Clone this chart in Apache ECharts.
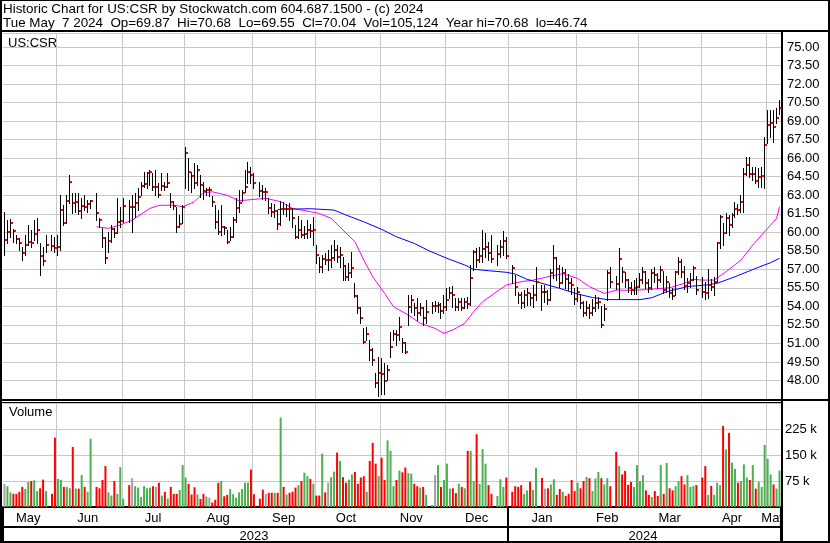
<!DOCTYPE html>
<html><head><meta charset="utf-8">
<script src="https://cdn.jsdelivr.net/npm/echarts/dist/echarts.min.js"></script>
<style>html,body{margin:0;padding:0;background:#fff}#c{width:830px;height:543px}</style>
</head><body><div id="c"></div>
<script>
// ---------- DATA ----------
const START_DATE = '2023-05-08';
const END_DATE = '2024-05-07';
const MONTH_NAMES = ['Jan','Feb','Mar','Apr','May','Jun','Jul','Aug','Sep','Oct','Nov','Dec'];
const HEADER_1 = 'Historic Chart for US:CSR by Stockwatch.com 604.687.1500 - (c) 2024';
const HEADER_2 = 'Tue May  7 2024  Op=69.87  Hi=70.68  Lo=69.55  Cl=70.04  Vol=105,124  Year hi=70.68  lo=46.74';
const SYMBOL_LABEL = 'US:CSR';
const VOLUME_LABEL = 'Volume';

// one entry per weekday (null = market holiday)
const closes = [
59.37,60.04,60.72,60.10,59.48,59.15,58.34,58.97,59.21,59.15,
59.86,60.20,58.08,57.70,59.00,null,58.89,58.70,58.78,61.80,
60.77,62.55,64.09,62.34,62.48,61.74,62.12,62.07,62.26,62.55,
null,61.58,60.99,59.56,57.94,59.32,60.26,59.96,60.85,60.91,
62.15,null,62.07,62.07,62.34,62.88,63.77,63.88,64.80,64.90,
63.69,63.69,63.04,63.77,63.66,64.01,62.45,62.15,60.45,60.67,
62.01,66.44,64.88,64.55,64.01,65.04,63.83,63.36,63.42,63.42,
62.48,60.85,60.02,60.40,60.38,59.21,59.64,60.99,61.99,62.39,
63.15,63.69,64.88,64.61,64.01,null,63.36,63.23,63.23,61.96,
61.67,61.72,60.67,61.88,61.85,61.90,61.85,61.18,59.64,60.18,
59.78,59.83,60.18,60.13,60.18,58.16,57.21,57.83,57.75,57.75,
57.89,58.56,58.02,58.16,57.27,56.40,56.73,57.08,54.84,53.89,
53.03,51.09,51.76,50.47,49.66,47.77,48.58,48.50,47.96,48.85,
50.73,51.76,51.68,52.35,51.00,50.33,53.97,54.51,53.84,53.44,
53.84,53.03,53.57,null,54.03,54.03,54.11,53.65,53.97,54.51,
55.11,54.92,53.97,54.38,53.89,54.38,54.17,56.32,58.43,57.75,
58.08,58.64,58.83,58.34,57.80,null,58.24,58.83,59.29,58.08,
null,57.08,55.60,54.92,54.24,54.92,55.06,54.65,54.92,56.00,
null,55.19,55.19,54.51,56.73,57.89,57.02,55.92,56.73,56.19,
55.92,55.73,54.60,55.19,54.24,53.49,53.84,53.49,53.84,54.30,
54.38,52.49,53.79,56.67,56.00,null,55.78,57.83,56.81,56.13,
55.51,55.32,55.46,55.60,56.13,56.81,55.92,55.46,56.67,56.54,
56.13,56.94,55.32,56.00,55.06,54.86,56.76,57.57,56.81,55.65,
55.87,56.13,57.08,55.32,null,55.20,55.10,55.73,55.60,56.00,
59.10,61.21,59.96,61.13,60.59,61.40,61.86,61.80,62.48,64.72,
65.45,64.69,64.72,64.18,64.50,64.55,67.06,68.68,68.87,68.55,
69.23,70.04];

const highs = [
61.67,60.99,61.10,60.24,59.78,59.50,58.83,59.78,60.59,60.18,
60.99,61.13,59.10,58.83,59.78,null,59.78,59.64,59.78,63.00,
62.20,63.00,64.64,63.15,63.15,63.15,62.75,63.00,62.60,62.60,
null,63.15,61.13,60.32,59.64,60.04,60.59,60.32,62.75,62.07,
62.75,null,62.61,63.00,63.15,63.55,64.09,64.90,64.90,65.04,
64.77,65.04,63.96,64.77,64.09,64.77,63.15,62.50,62.07,61.40,
62.20,66.93,65.99,64.90,65.58,65.45,64.64,64.10,63.60,63.70,
62.90,62.20,61.80,62.20,60.50,60.18,60.40,61.26,62.75,63.42,
63.42,65.04,65.71,65.30,64.77,null,64.10,63.80,63.60,62.80,
62.40,62.30,61.80,62.55,62.45,62.30,62.40,62.00,60.60,61.30,
61.00,60.50,61.00,60.70,61.20,58.97,58.02,58.16,58.30,58.56,
58.97,59.37,58.97,58.83,58.02,57.35,57.48,58.43,55.87,54.92,
53.97,52.22,52.35,51.28,50.60,48.58,49.93,49.79,49.39,49.25,
51.95,52.09,52.09,53.16,51.41,51.14,54.92,54.92,54.24,54.65,
54.30,53.97,54.51,null,54.38,54.40,54.38,54.24,54.92,55.46,
55.60,55.65,54.65,54.65,54.65,54.65,54.78,57.35,58.56,58.70,
58.83,60.20,59.91,59.24,59.78,null,58.97,59.37,60.10,59.60,
null,57.35,56.54,55.19,55.19,55.33,55.46,55.06,55.73,57.21,
null,55.73,55.73,55.33,57.00,58.97,58.02,57.35,57.20,57.00,
56.60,56.30,55.50,55.60,55.00,54.40,54.40,54.20,54.60,54.90,
54.80,54.00,54.20,56.94,57.20,null,56.50,58.72,57.20,56.80,
56.20,56.00,56.10,56.30,56.70,57.20,56.90,56.20,57.00,57.20,
56.70,57.30,56.90,56.50,55.90,55.50,56.90,58.00,57.80,57.30,
56.30,56.70,57.30,56.50,null,56.40,56.00,57.00,56.20,56.40,
59.20,61.40,60.72,61.53,61.40,61.53,62.48,62.30,63.00,65.18,
66.12,66.12,65.30,65.30,65.18,65.30,67.74,69.90,69.90,69.90,
70.04,70.68];

const lows = [
58.16,59.10,59.64,59.24,59.10,58.56,57.75,58.16,58.97,58.83,
59.37,59.10,56.54,57.35,58.43,null,58.56,58.43,58.16,58.60,
60.60,60.72,62.34,61.53,61.67,61.50,61.13,61.80,61.67,62.00,
null,60.99,60.45,58.83,57.48,58.43,59.24,59.64,59.91,60.45,
60.85,null,60.85,60.04,61.26,61.80,63.00,63.69,63.55,63.83,
63.42,63.00,62.88,63.42,63.42,63.69,62.07,61.90,60.04,60.45,
60.72,63.55,63.42,63.28,63.55,63.83,62.88,62.70,63.00,62.90,
62.10,60.32,59.90,59.78,59.90,59.10,59.40,59.64,60.85,61.67,
62.50,63.28,63.96,63.96,63.55,null,62.90,62.70,62.60,61.60,
61.30,61.20,60.30,60.59,61.50,61.30,61.00,60.40,59.50,59.50,
59.60,59.50,59.50,59.60,59.00,57.48,56.81,56.81,57.40,56.94,
57.21,57.75,57.62,57.21,56.13,56.13,56.13,56.40,54.78,53.44,
52.63,51.00,51.28,49.66,49.25,47.50,46.74,46.90,46.90,48.04,
49.93,51.28,50.87,51.28,50.33,50.20,52.49,53.57,53.30,52.89,
53.30,52.49,52.63,null,53.44,53.60,53.57,53.03,53.44,53.70,
54.65,53.97,53.70,53.70,53.70,53.84,53.84,54.10,56.94,57.21,
57.62,57.62,58.02,57.75,57.62,null,57.35,58.02,58.20,57.89,
null,55.87,54.92,54.24,53.84,53.97,54.10,54.10,53.97,54.51,
null,53.70,54.38,54.20,54.50,56.30,56.13,55.60,55.90,55.50,
55.30,55.00,54.20,54.40,53.90,53.20,53.30,53.10,53.30,53.60,
53.90,52.30,52.90,54.50,55.60,null,55.40,54.60,56.00,55.60,
55.20,55.00,55.00,55.00,55.60,55.90,55.50,55.20,55.40,56.00,
55.50,56.00,55.10,55.20,54.80,54.60,54.90,56.60,56.40,55.40,
55.20,55.60,56.10,55.00,null,54.78,54.60,54.70,55.30,54.90,
56.00,58.70,58.97,59.91,59.80,60.40,61.26,61.50,61.67,61.67,
64.64,64.50,64.23,63.96,63.69,63.69,63.55,67.20,67.74,67.33,
68.82,69.55];

// volume in thousands of shares
const volumesK = [
66,60,42,38,38,44,58,52,72,75,
77,46,54,79,46,null,38,200,81,78,
58,58,54,173,53,53,92,58,44,197,
null,58,54,78,118,42,33,75,38,115,
24,null,63,83,60,56,29,60,54,56,
60,58,70,33,44,24,58,38,38,49,
121,85,67,36,57,36,23,38,30,27,
13,21,70,75,31,35,52,37,27,42,
52,70,70,108,37,null,24,50,38,41,
41,41,41,258,58,36,41,44,56,63,
75,99,89,81,67,33,33,154,42,70,
86,102,157,133,86,70,79,94,101,67,
85,89,44,133,185,125,89,142,78,192,
162,60,78,105,100,114,98,96,67,60,
56,58,35,null,6,92,121,58,78,125,
53,54,40,67,58,54,162,162,75,210,
67,167,125,63,38,null,32,80,58,85,
null,44,60,58,63,38,48,73,49,113,
null,84,53,54,65,80,35,52,44,32,
38,78,46,70,54,75,87,83,46,82,
101,83,65,83,60,null,159,118,94,104,
64,72,58,121,75,92,48,35,29,46,
32,121,38,127,54,48,60,75,89,65,
92,58,61,63,null,85,118,35,61,35,
70,63,234,166,214,128,110,70,75,123,
85,78,121,53,72,58,179,139,94,65,
53,105.124];

// moving averages: [weekday index, value]
const maShort = [
[31,60.45],[35,60.32],[39,60.59],[43,60.99],[49,61.94],[52,62.18],[57,62.20],[60,62.07],
[64,62.48],[67,63.20],[70,63.28],[75,63.00],[79,62.55],[84,62.67],[88,62.75],[93,62.48],
[97,61.94],[103,61.67],[106,61.53],[110,61.13],[114,60.18],[118,59.24],[121,57.75],[124,56.40],
[128,55.06],[131,53.97],[136,53.30],[140,52.63],[145,52.22],[148,51.82],[151,52.09],[155,52.63],
[158,53.57],[161,54.38],[165,55.06],[169,55.73],[174,56.00],[178,56.13],[183,56.40],[188,56.65],
[193,56.27],[197,55.60],[202,55.05],[206,55.32],[211,55.30],[216,55.35],[224,55.51],[229,55.87],
[232,56.19],[235,56.13],[239,56.13],[243,56.81],[248,57.75],[252,58.97],[257,60.32],[260,61.13],[261,62.07]];
const maLong = [
[92,61.85],[103,61.91],[111,61.80],[115,61.40],[121,60.85],[127,60.24],[132,59.64],[138,59.10],
[143,58.50],[149,57.89],[155,57.35],[158,57.00],[163,56.89],[169,56.76],[172,56.62],[176,56.19],
[181,55.87],[187,55.46],[193,55.00],[198,54.72],[203,54.55],[208,54.55],[214,54.55],[218,54.70],
[223,55.19],[230,55.60],[236,55.73],[240,55.87],[246,56.40],[253,57.08],[258,57.54],[261,57.89]];

// axis ranges / ticks
const PRICE_MIN = 46.5, PRICE_MAX = 76.14, PRICE_STEP = 1.5;
const VOL_MIN = 0, VOL_MAX = 300, VOL_STEP = 75;

// ---------- BUILD ----------
function weekdays(a, b) {
  const out = []; let d = new Date(a + 'T00:00:00Z'); const e = new Date(b + 'T00:00:00Z');
  while (d <= e) { const w = d.getUTCDay(); if (w > 0 && w < 6) out.push(d.toISOString().slice(0, 10)); d = new Date(d.getTime() + 86400000); }
  return out;
}
const dates = weekdays(START_DATE, END_DATE);

const monthSpans = [], yearSpans = [];
dates.forEach((d, i) => {
  const m = d.slice(0, 7), y = d.slice(0, 4);
  if (i === 0 || m !== dates[i - 1].slice(0, 7)) monthSpans.push({ key: m, s: i, e: i }); else monthSpans[monthSpans.length - 1].e = i;
  if (i === 0 || y !== dates[i - 1].slice(0, 4)) yearSpans.push({ key: y, s: i, e: i }); else yearSpans[yearSpans.length - 1].e = i;
});
const monthStartSet = new Set(monthSpans.slice(1).map(s => s.s));
const yearTickSet = new Set(yearSpans.map(s => s.s));
const monthLabel = new Map(monthSpans.map(s => [Math.floor((s.s + s.e) / 2), MONTH_NAMES[+s.key.slice(5, 7) - 1]]));
const yearLabel = new Map(yearSpans.map(s => [Math.floor((s.s + s.e) / 2), s.key]));

const ohlc = [];
closes.forEach((c, i) => { if (c != null) ohlc.push([i, highs[i], lows[i], c]); });

const FONT = 'Liberation Sans, Arial, sans-serif';
const GRID_C = '#c8c8c8';
const UP = '#4caf50', DOWN = '#ff0000', FLAT = '#a0a0a0';

function volColor(p) {
  const i = p.dataIndex; let j = i - 1;
  while (j >= 0 && closes[j] == null) j--;
  if (j < 0 || closes[i] === closes[j]) return FLAT;
  return closes[i] > closes[j] ? UP : DOWN;
}

const frameRects = [
  [0, 0, 830, 1], [0, 0, 2, 543], [828, 0, 2, 543], [0, 541, 830, 2],
  [0, 30, 830, 2], [781, 32, 2, 509], [0, 399, 830, 2], [0, 402, 781, 1]
];

const option = {
  animation: false,
  backgroundColor: '#fff',
  textStyle: { fontFamily: FONT },
  title: [
    { text: HEADER_1 + '\n' + HEADER_2, left: 3, top: 2, padding: 0,
      textStyle: { fontFamily: FONT, fontSize: 13.4, fontWeight: 'normal', color: '#000', lineHeight: 14 } },
    { text: SYMBOL_LABEL, left: 8, top: 37, padding: 0,
      textStyle: { fontFamily: FONT, fontSize: 13, fontWeight: 'normal', color: '#000' } },
    { text: VOLUME_LABEL, left: 9, top: 406, padding: 0,
      textStyle: { fontFamily: FONT, fontSize: 13, fontWeight: 'normal', color: '#000' } }
  ],
  grid: [
    { left: 3, right: 49, top: 33, height: 366 },
    { left: 3, right: 49, top: 403, height: 104 }
  ],
  xAxis: [
    { type: 'category', gridIndex: 0, data: dates, boundaryGap: true,
      axisLine: { show: false }, axisTick: { show: false }, axisLabel: { show: false },
      splitLine: { show: true, interval: i => monthStartSet.has(i), lineStyle: { color: GRID_C, width: 1 } } },
    { type: 'category', gridIndex: 1, data: dates, boundaryGap: true, position: 'bottom',
      axisLine: { show: true, onZero: false, lineStyle: { color: '#000', width: 2 } },
      axisTick: { show: true, interval: i => yearTickSet.has(i), length: 20, lineStyle: { color: '#000', width: 2 } },
      axisLabel: { show: true, interval: i => monthLabel.has(i), formatter: (v, i) => monthLabel.get(i) || '',
        margin: 5, fontSize: 13, color: '#000', fontFamily: FONT },
      splitLine: { show: true, interval: i => monthStartSet.has(i), lineStyle: { color: GRID_C, width: 1 } } },
    { type: 'category', gridIndex: 1, data: dates, boundaryGap: true, position: 'bottom', offset: 20,
      axisLine: { show: true, onZero: false, lineStyle: { color: '#000', width: 2 } },
      axisTick: { show: true, interval: i => yearTickSet.has(i), length: 15, lineStyle: { color: '#000', width: 2 } },
      axisLabel: { show: true, interval: i => yearLabel.has(i), formatter: (v, i) => yearLabel.get(i) || '',
        margin: 3, fontSize: 13, color: '#000', fontFamily: FONT },
      splitLine: { show: false } }
  ],
  yAxis: [
    { type: 'value', gridIndex: 0, position: 'right', min: PRICE_MIN, max: PRICE_MAX, interval: PRICE_STEP,
      axisLine: { show: false }, axisTick: { show: false },
      axisLabel: { margin: 6, fontSize: 13, color: '#000', fontFamily: FONT, showMinLabel: false, showMaxLabel: false,
        formatter: v => v.toFixed(2) },
      splitLine: { show: true, lineStyle: { color: GRID_C, width: 1 } } },
    { type: 'value', gridIndex: 1, position: 'right', min: VOL_MIN, max: VOL_MAX, interval: VOL_STEP,
      axisLine: { show: false }, axisTick: { show: false },
      axisLabel: { margin: 4, fontSize: 13, color: '#000', fontFamily: FONT, showMinLabel: false, showMaxLabel: false,
        formatter: v => v + ' k' },
      splitLine: { show: true, lineStyle: { color: GRID_C, width: 1 } } }
  ],
  series: [
    { type: 'line', xAxisIndex: 0, yAxisIndex: 0, data: maShort, showSymbol: false, smooth: false,
      lineStyle: { color: '#ff00ff', width: 1 }, z: 3 },
    { type: 'line', xAxisIndex: 0, yAxisIndex: 0, data: maLong, showSymbol: false, smooth: false,
      lineStyle: { color: '#0000ff', width: 1 }, z: 3 },
    { type: 'custom', xAxisIndex: 0, yAxisIndex: 0, data: ohlc, encode: { x: 0, y: [1, 2, 3] }, z: 4,
      renderItem: function (params, api) {
        const i = api.value(0);
        const ph = api.coord([i, api.value(1)]), pl = api.coord([i, api.value(2)]), pc = api.coord([i, api.value(3)]);
        const x = Math.floor(ph[0]) + 0.5;
        const yc = Math.round(pc[1]);
        return { type: 'group', children: [
          { type: 'line', shape: { x1: x, y1: Math.round(ph[1]), x2: x, y2: Math.round(pl[1]) + 1 },
            style: { stroke: '#000', lineWidth: 1 } },
          { type: 'rect', shape: { x: x + 0.5, y: yc - 1, width: 2, height: 2 }, style: { fill: '#ff0000' } }
        ] };
      } },
    { type: 'bar', xAxisIndex: 1, yAxisIndex: 1, data: volumesK, barWidth: 2,
      itemStyle: { color: volColor } }
  ],
  graphic: [
    { type: 'rect', shape: { x: 783, y: 508, width: 45, height: 33 }, style: { fill: '#fff' }, z: 99, silent: true }
  ].concat(frameRects.map(r => ({ type: 'rect', shape: { x: r[0], y: r[1], width: r[2], height: r[3] },
    style: { fill: '#000' }, z: 100, silent: true })))
};

const chart = echarts.init(document.getElementById('c'));
chart.setOption(option);
</script>
</body></html>
